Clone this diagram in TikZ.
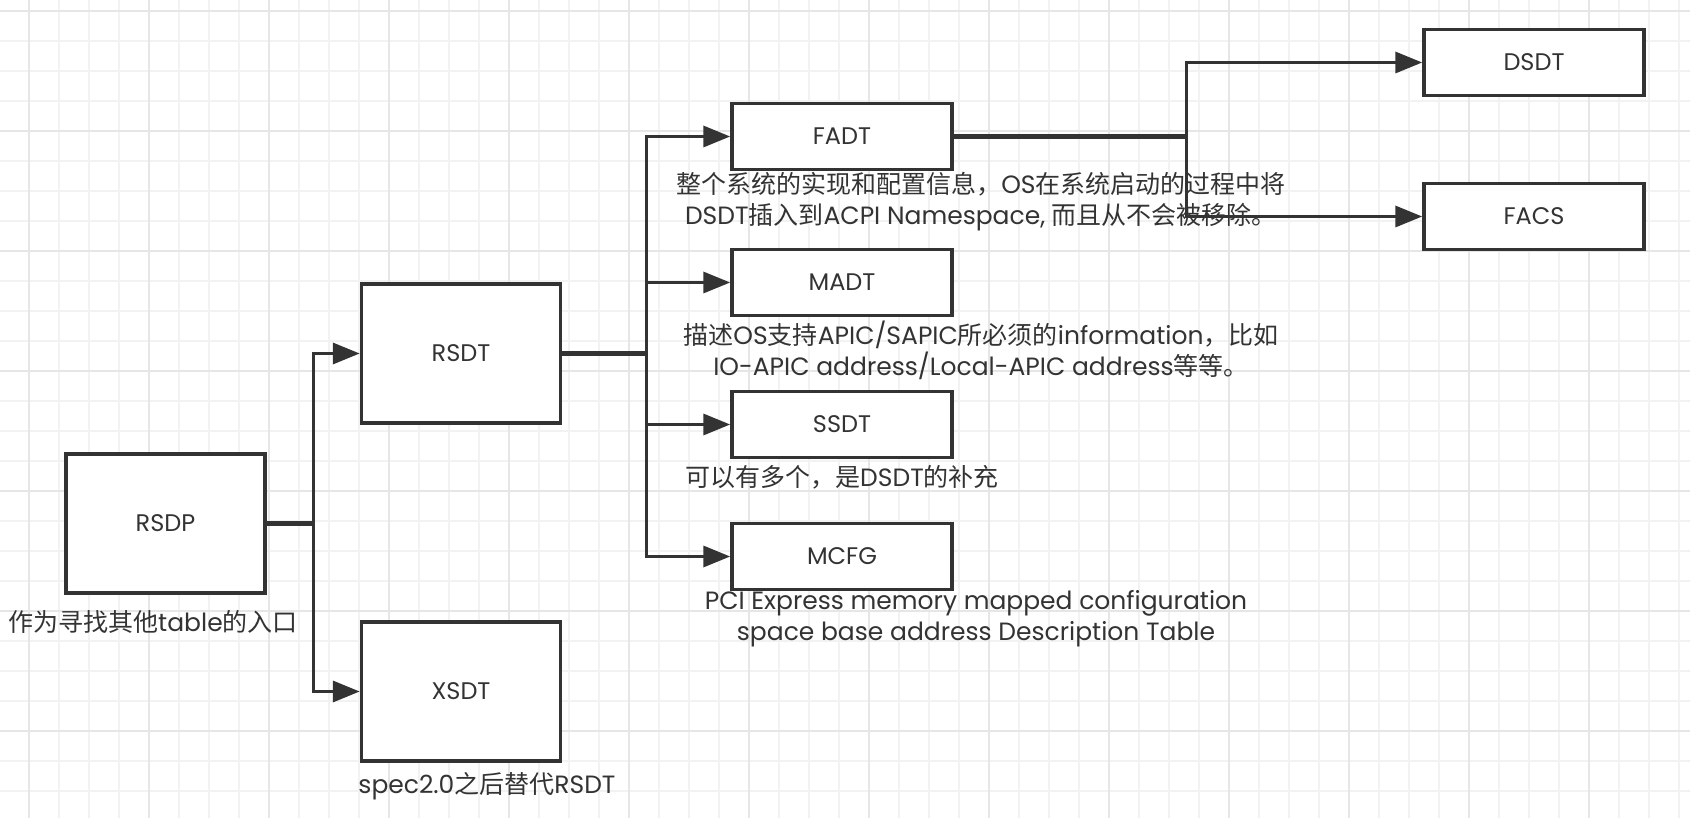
\documentclass[tikz,border=0pt]{standalone}
\usepackage{fontspec}
\setmainfont{Poppins}
\newfontfamily\cjk{Noto Sans CJK SC}
\newcommand\zh[1]{{\cjk #1}}
\usetikzlibrary{arrows.meta}
\definecolor{ink}{HTML}{333333}
\definecolor{minorgrid}{HTML}{F2F2F2}
\definecolor{majorgrid}{HTML}{E6E6E6}
\tikzset{
  table/.style={draw=ink, line width=3.5pt, fill=white, inner sep=0pt,
    text=ink, font=\fontsize{24pt}{28pt}\selectfont},
  bigtable/.style={table, minimum width=199pt, minimum height=139pt},
  smalltable/.style={table, minimum width=220pt, minimum height=66pt},
  note/.style={text=ink, align=center, inner sep=0pt,
    font=\fontsize{25pt}{31pt}\selectfont},
  conn/.style={draw=ink, line width=3.5pt,
    -{Triangle[length=27pt,width=21pt]}},
  link/.style={draw=ink, line width=5pt}
}
\begin{document}
\begin{tikzpicture}[x=1pt,y=-1pt]
\useasboundingbox (0,0) rectangle (1690,818);
\fill[white] (0,0) rectangle (1690,818);
\foreach \i in {0,...,55}
  \draw[minorgrid,line width=1.5pt] ({29+30*\i},0) -- ({29+30*\i},818);
\foreach \i in {0,...,26}
  \draw[minorgrid,line width=1.5pt] (0,{11+30*\i}) -- (1690,{11+30*\i});
\foreach \i in {0,...,13}
  \draw[majorgrid,line width=1.5pt] ({29+120*\i},0) -- ({29+120*\i},818);
\foreach \i in {0,...,6}
  \draw[majorgrid,line width=1.5pt] (0,{11+120*\i}) -- (1690,{11+120*\i});

\node[bigtable] (rsdp) at (165.5,523.5) {RSDP};
\node[bigtable] (rsdt) at (461,353.5) {RSDT};
\node[bigtable] (xsdt) at (461,691.5) {XSDT};
\node[smalltable] (fadt) at (842,136.5) {FADT};
\node[smalltable] (madt) at (842,282.5) {MADT};
\node[smalltable] (ssdt) at (842,424.5) {SSDT};
\node[smalltable] (mcfg) at (842,556.5) {MCFG};
\node[smalltable] (dsdt) at (1534,62.5) {DSDT};
\node[smalltable] (facs) at (1534,216.5) {FACS};

\coordinate (rsdpfork) at (313.5,523.5);
\coordinate (rsdtfork) at (646.5,353.5);
\coordinate (fadtfork) at (1186.5,136.5);

\draw[link] (rsdp.east) -- (rsdpfork);
\draw[conn] (rsdpfork) |- (rsdt.west);
\draw[conn] (rsdpfork) |- (xsdt.west);
\draw[link] (rsdt.east) -- (rsdtfork);
\draw[conn] (rsdtfork) |- (fadt.west);
\draw[conn] (rsdtfork) |- (madt.west);
\draw[conn] (rsdtfork) |- (ssdt.west);
\draw[conn] (rsdtfork) |- (mcfg.west);
\draw[link] (fadt.east) -- (fadtfork);
\draw[conn] (fadtfork) |- (dsdt.west);
\draw[conn] (fadtfork) |- (facs.west);

\node[note] (rsdpnote) at (153,622) {\zh{作为寻找其他}table\zh{的入口}};
\node[note] (xsdtnote) at (487,786) {spec2.0\zh{之后替代}RSDT};
\node[note] (fadtnote) at (981,202) {\zh{整个系统的实现和配置信息，}OS\zh{在系统启动的过程中将}\\
  DSDT\zh{插入到}ACPI Namespace, \zh{而且从不会被移除。}};
\node[note] (madtnote) at (981,350) {\zh{描述}OS\zh{支持}APIC/SAPIC\zh{所必须的}information\zh{，比如}\\
  IO-APIC address/Local-APIC address\zh{等等。}};
\node[note] (ssdtnote) at (842,477.5) {\zh{可以有多个，是}DSDT\zh{的补充}};
\node[note] (mcfgnote) at (976,618.5) {PCI Express memory mapped configuration\\
  space base address Description Table};
\end{tikzpicture}
\end{document}
